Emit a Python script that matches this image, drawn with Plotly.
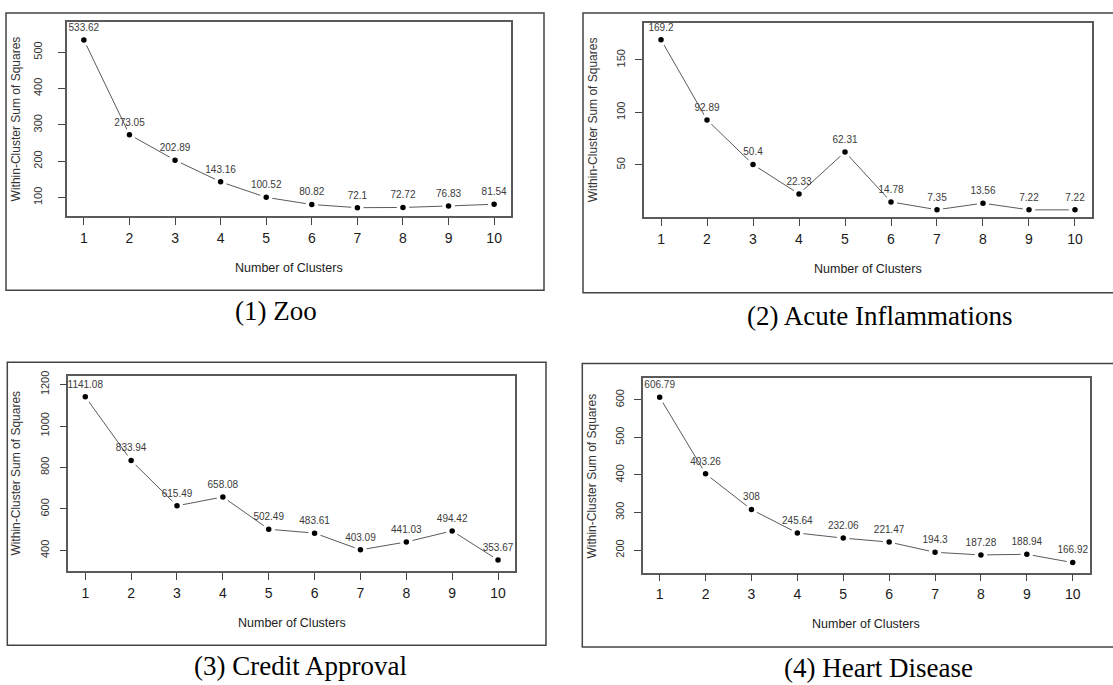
import plotly.graph_objects as go

W, H = 1113, 685

clusters = list(range(1, 11))
zoo = [533.62, 273.05, 202.89, 143.16, 100.52, 80.82, 72.1, 72.72, 76.83, 81.54]
acute = [169.2, 92.89, 50.4, 22.33, 62.31, 14.78, 7.35, 13.56, 7.22, 7.22]
credit = [1141.08, 833.94, 615.49, 658.08, 502.49, 483.61, 403.09, 441.03, 494.42, 353.67]
heart = [606.79, 403.26, 308, 245.64, 232.06, 221.47, 194.3, 187.28, 188.94, 166.92]

captions = ["(1) Zoo", "(2) Acute Inflammations", "(3) Credit Approval", "(4) Heart Disease"]
ytickvals = [[100, 200, 300, 400, 500], [50, 100, 150], [400, 600, 800, 1000, 1200],
             [200, 300, 400, 500, 600]]
yranges = [[48, 582], [0, 185], [301, 1240], [140, 657]]
xtitle = "Number of Clusters"
ytitle = "Within-Cluster Sum of Squares"

series = [zoo, acute, credit, heart]

# layout geometry in pixels (left, right, top, bottom) of plot boxes
boxes = [(67, 511, 16.5, 212.3), (644, 1092, 17.3, 213.3),
         (68.3, 515, 373.5, 570), (642.7, 1089.7, 375.7, 571.7)]
frames = [(6, 544, 7, 286.7), (583, 1116, 7, 289.3),
          (7.3, 546, 359.3, 645), (582.3, 1116, 360.7, 646.7)]
cap_pos = [(276, 308), (879, 313), (300, 666), (878, 668)]
ytitle_x = [16, 593, 16, 592]
ylab_standoff = [12, 6, 6, 6]


def fx(p):
    return p / W


def fy(p):
    return 1 - p / H


SANS = "Liberation Sans, Arial, sans-serif"
SERIF = "Liberation Serif, Times New Roman, serif"

fig = go.Figure()
layout = dict(width=W, height=H, margin=dict(l=0, r=0, t=0, b=0),
              paper_bgcolor="white", plot_bgcolor="white", showlegend=False)
annotations = []
shapes = []

for i, vals in enumerate(series):
    n = i + 1
    xa = "x" if n == 1 else f"x{n}"
    ya = "y" if n == 1 else f"y{n}"
    fig.add_trace(go.Scatter(
        x=clusters, y=vals, xaxis=xa, yaxis=ya,
        mode="lines+markers+text",
        text=[f"{v:g}" for v in vals],
        textposition="top center",
        textfont=dict(family=SANS, size=10, color="#3a3a3a"),
        line=dict(color="#5a5a5a", width=1),
        marker=dict(size=9, color="black", line=dict(color="white", width=3.5)),
        cliponaxis=False,
        hoverinfo="skip",
    ))
    l, r, t, b = boxes[i]
    xkey = "xaxis" if n == 1 else f"xaxis{n}"
    ykey = "yaxis" if n == 1 else f"yaxis{n}"
    layout[xkey] = dict(
        domain=[fx(l), fx(r)], anchor=ya, range=[0.63, 10.37],
        tickvals=clusters, ticktext=[str(c) for c in clusters],
        ticks="outside", ticklen=7, tickwidth=1, tickcolor="#444",
        showline=True, mirror=True, linecolor="#5a5a5a", linewidth=1.5,
        showgrid=False, zeroline=False, ticklabelstandoff=1,
        tickfont=dict(family=SANS, size=14, color="#1a1a1a"),
    )
    layout[ykey] = dict(
        domain=[fy(b), fy(t)], anchor=xa, range=yranges[i],
        tickvals=ytickvals[i], tickangle=-90,
        ticks="outside", ticklen=7, tickwidth=1, tickcolor="#444",
        showline=True, mirror=True, linecolor="#5a5a5a", linewidth=1.5,
        showgrid=False, zeroline=False, ticklabelstandoff=ylab_standoff[i],
        tickfont=dict(family=SANS, size=11, color="#333"),
    )
    # axis titles
    annotations.append(dict(
        x=fx((l + r) / 2), y=fy(b + 52), xref="paper", yref="paper",
        text=xtitle, showarrow=False, xanchor="center", yanchor="middle",
        font=dict(family=SANS, size=12.5, color="#222"),
    ))
    annotations.append(dict(
        x=fx(ytitle_x[i]), y=fy((t + b) / 2), xref="paper", yref="paper",
        text=ytitle, showarrow=False, xanchor="center", yanchor="middle",
        textangle=-90, font=dict(family=SANS, size=12, color="#333"),
    ))
    # caption
    cx, cy = cap_pos[i]
    annotations.append(dict(
        x=fx(cx), y=fy(cy), xref="paper", yref="paper",
        text=captions[i], showarrow=False, xanchor="center", yanchor="middle",
        font=dict(family=SERIF, size=27, color="black"),
    ))
    # outer frame
    fl, fr, ft, fb = frames[i]
    shapes.append(dict(type="rect", xref="paper", yref="paper",
                       x0=fx(fl), x1=fx(fr), y0=fy(fb), y1=fy(ft),
                       line=dict(color="#444", width=1.5)))

layout["annotations"] = annotations
layout["shapes"] = shapes
fig.update_layout(**layout)
fig.write_html("out.html")
